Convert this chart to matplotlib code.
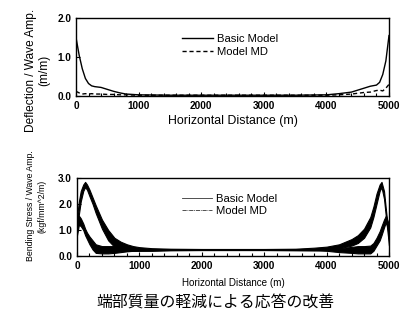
import matplotlib
matplotlib.use("Agg")
import matplotlib.pyplot as plt
from matplotlib.ticker import MultipleLocator

# ---- Top panel: deflection / wave amplitude ----
x_top = [0, 50, 100, 150, 200, 250, 300, 400, 500, 600, 700, 800, 1000, 1500, 2000,
         2500, 3000, 3500, 4000, 4200, 4400, 4500, 4600, 4700, 4800, 4850, 4900, 4950, 5000]
basic_top = [1.5, 1.05, 0.7, 0.45, 0.32, 0.26, 0.24, 0.22, 0.17, 0.12, 0.08, 0.05, 0.03, 0.02, 0.02,
             0.02, 0.02, 0.02, 0.03, 0.06, 0.1, 0.15, 0.2, 0.25, 0.28, 0.35, 0.55, 0.9, 1.55]
md_top = [0.12, 0.08, 0.05, 0.06, 0.05, 0.06, 0.05, 0.05, 0.04, 0.04, 0.03, 0.03, 0.02, 0.02, 0.02,
          0.02, 0.02, 0.02, 0.02, 0.03, 0.05, 0.07, 0.09, 0.1, 0.14, 0.15, 0.13, 0.2, 0.3]

# ---- Bottom panel: bending stress / wave amplitude (oscillation bands) ----
x_bot = [0, 30, 60, 100, 130, 160, 200, 250, 300, 400, 500, 600, 700, 800, 900, 1000, 1200,
         1500, 2000, 3000, 3500, 3800, 4000, 4200, 4400, 4500, 4600, 4700, 4750, 4800, 4850,
         4880, 4920, 4950, 5000]
basic_hi = [1.5, 2.1, 2.5, 2.75, 2.85, 2.75, 2.55, 2.25, 1.95, 1.4, 1.0, 0.7, 0.55, 0.45, 0.38, 0.34,
            0.3, 0.28, 0.27, 0.27, 0.28, 0.32, 0.36, 0.45, 0.65, 0.8, 1.05, 1.5, 1.9, 2.4, 2.75,
            2.85, 2.5, 1.8, 0.7]
basic_lo = [0.9, 1.6, 2.1, 2.5, 2.65, 2.55, 2.3, 2.0, 1.65, 1.05, 0.6, 0.35, 0.25, 0.2, 0.2, 0.2,
            0.2, 0.22, 0.23, 0.23, 0.22, 0.22, 0.24, 0.3, 0.4, 0.5, 0.7, 1.1, 1.5, 2.0, 2.5,
            2.65, 2.2, 1.5, 0.4]
md_hi = [1.2, 1.55, 1.45, 1.25, 1.05, 0.9, 0.75, 0.6, 0.45, 0.38, 0.38, 0.38, 0.35, 0.33, 0.3, 0.28,
         0.27, 0.26, 0.26, 0.26, 0.26, 0.26, 0.27, 0.3, 0.35, 0.38, 0.38, 0.4, 0.5, 0.7, 0.95,
         1.15, 1.4, 1.55, 1.2]
md_lo = [0.8, 1.2, 1.15, 1.0, 0.8, 0.65, 0.45, 0.25, 0.12, 0.1, 0.1, 0.12, 0.15, 0.18, 0.2, 0.21,
         0.22, 0.23, 0.23, 0.23, 0.23, 0.22, 0.2, 0.15, 0.12, 0.1, 0.1, 0.1, 0.2, 0.4, 0.6,
         0.8, 1.1, 1.3, 0.9]

xticks = [0, 1000, 2000, 3000, 4000, 5000]
title = "端部質量の軽減による応答の改善"

plt.rcParams['font.family'] = ['Liberation Sans', 'DejaVu Sans']
fig = plt.figure(figsize=(4.2, 3.31), dpi=100)
W, H = 420, 331

def add_ax(l, t, r, b):
    return fig.add_axes([l / W, 1 - b / H, (r - l) / W, (b - t) / H])

tfs = 7.2
lfs = 8.1

ax1 = add_ax(76, 18, 389, 96)
ax1.plot(x_top, basic_top, color='black', lw=1.0, label='Basic Model')
ax1.plot(x_top, md_top, color='black', lw=1.0, ls=(0, (3, 2)), label='Model MD')
ax1.set_xlim(0, 5000)
ax1.set_ylim(0, 2.0)
ax1.set_yticks([0.0, 1.0, 2.0])
ax1.set_yticklabels(['0.0', '1.0', '2.0'])
ax1.set_ylabel('Deflection / Wave Amp.\n(m/m)', fontsize=8.6, linespacing=1.15)
ax1.yaxis.set_label_coords(-0.082, 0.333)
ax1.set_xlabel('Horizontal Distance (m)', fontsize=8.9, labelpad=3)
ax1.legend(loc='upper left', bbox_to_anchor=(0.338, 0.79), frameon=False, fontsize=lfs,
           handlelength=2.75, handletextpad=0.35, labelspacing=0.2, borderpad=0, borderaxespad=0)

ax2 = add_ax(77, 178, 389, 256)
ax2.fill_between(x_bot, basic_lo, basic_hi, color='black', lw=0.8, edgecolor='black')
ax2.fill_between(x_bot, md_lo, md_hi, color='black', lw=0.8, edgecolor='black')
ax2.plot([], [], color='#333333', lw=0.6, label='Basic Model')
ax2.plot([], [], color='#333333', lw=0.6, ls=(0, (5, 1, 1, 1)), label='Model MD')
ax2.set_xlim(0, 5000)
ax2.set_ylim(0, 3.0)
ax2.set_yticks([0.0, 1.0, 2.0, 3.0])
ax2.set_yticklabels(['0.0', '1.0', '2.0', '3.0'])
ax2.set_ylabel('Bending Stress / Wave Amp.\n(kgf/mm^2/m)', fontsize=6.3, linespacing=1.3)
ax2.yaxis.set_label_coords(-0.099, 0.64)
ax2.set_xlabel('Horizontal Distance (m)', fontsize=7.1, labelpad=5)
ax2.legend(loc='upper left', bbox_to_anchor=(0.335, 0.80), frameon=False, fontsize=lfs,
           handlelength=2.75, handletextpad=0.35, labelspacing=0.2, borderpad=0, borderaxespad=0)

for ax in (ax1, ax2):
    ax.set_xticks(xticks)
    ax.set_xticklabels([str(v) for v in xticks])
    ax.xaxis.set_minor_locator(MultipleLocator(200))
    ax.tick_params(axis='both', which='major', direction='in', labelsize=tfs, length=3, width=0.8,
                   top=False, right=False)
    ax.tick_params(axis='x', which='minor', direction='in', length=2, width=0.8)
    for lab in ax.get_xticklabels() + ax.get_yticklabels():
        lab.set_fontweight('bold')
    for s in ax.spines.values():
        s.set_linewidth(1.0)

fig.text(215 / W, 1 - 303 / H, title, ha='center', va='center', fontsize=11.4,
         family=['Noto Sans CJK JP', 'DejaVu Sans'])

fig.savefig('out.png', dpi=100)
